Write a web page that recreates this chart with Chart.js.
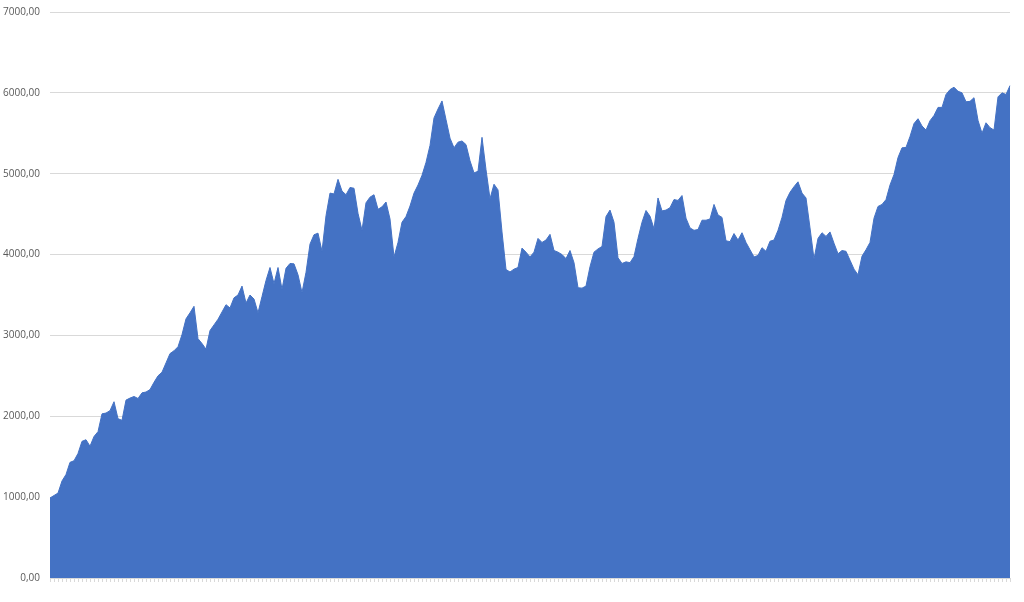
<!DOCTYPE html>
<html>
<head>
<meta charset="utf-8">
<title>Area chart</title>
<script src="https://cdn.jsdelivr.net/npm/chart.js@4/dist/chart.umd.min.js"></script>
<style>
  html, body { margin: 0; padding: 0; background: #fff; }
  #wrap { width: 1024px; height: 602px; }
</style>
</head>
<body>
<div id="wrap"><canvas id="chart" width="1024" height="602"></canvas></div>
<script>
// series values (one per category, left to right)
const values = [
  990, 1020, 1050, 1200, 1280, 1430, 1450, 1540, 1690, 1710,
  1630, 1750, 1810, 2030, 2040, 2070, 2180, 1970, 1950, 2200,
  2225, 2245, 2220, 2290, 2300, 2330, 2420, 2500, 2545, 2660,
  2775, 2810, 2860, 3010, 3205, 3280, 3360, 2960, 2900, 2830,
  3060, 3130, 3200, 3290, 3380, 3340, 3465, 3500, 3610, 3400,
  3500, 3450, 3280, 3480, 3680, 3840, 3640, 3840, 3570, 3830,
  3890, 3885, 3750, 3530, 3780, 4130, 4245, 4265, 4040, 4480,
  4760, 4750, 4930, 4785, 4740, 4830, 4820, 4510, 4300, 4640,
  4710, 4740, 4560, 4590, 4650, 4440, 3970, 4150, 4400, 4470,
  4600, 4760, 4860, 4980, 5140, 5350, 5690, 5800, 5900, 5670,
  5440, 5320, 5390, 5405, 5360, 5160, 5010, 5030, 5450, 5050,
  4690, 4870, 4800, 4280, 3815, 3785, 3820, 3840, 4080, 4030,
  3970, 4030, 4200, 4150, 4180, 4250, 4050, 4030, 4000, 3950,
  4050, 3900, 3590, 3585, 3610, 3850, 4030, 4070, 4100, 4470,
  4550, 4400, 3960, 3890, 3910, 3900, 3975, 4200, 4400, 4545,
  4475, 4320, 4700, 4540, 4550, 4580, 4680, 4670, 4730, 4450,
  4330, 4300, 4310, 4425, 4425, 4440, 4620, 4490, 4460, 4170,
  4160, 4260, 4180, 4270, 4150, 4060, 3970, 3990, 4085, 4040,
  4165, 4180, 4300, 4460, 4670, 4770, 4840, 4900, 4760, 4700,
  4330, 3945, 4200, 4270, 4225, 4280, 4140, 4010, 4050, 4040,
  3930, 3820, 3750, 3980, 4060, 4150, 4450, 4595, 4620, 4680,
  4860, 4990, 5200, 5320, 5325, 5460, 5620, 5680, 5590, 5540,
  5655, 5720, 5820, 5820, 5980, 6040, 6070, 6020, 6000, 5890,
  5895, 5940, 5660, 5500, 5630, 5570, 5540, 5950, 6000, 5980,
  6090
];

// categories have no visible labels, just one tick each
const categories = values.map((v, i) => String(i + 1));

// value axis
const yMin = 0;
const yMax = 7000;
const yStep = 1000;

const ctx = document.getElementById("chart").getContext("2d");
new Chart(ctx, {
  type: "line",
  data: {
    labels: categories,
    datasets: [{
      data: values,
      borderColor: "#4472C4",
      backgroundColor: "#4472C4",
      borderWidth: 1,
      pointRadius: 0,
      fill: "origin",
      tension: 0
    }]
  },
  options: {
    responsive: false,
    animation: false,
    layout: { padding: { left: 0, right: 14, top: 12, bottom: 14 } },
    plugins: {
      legend: { display: false },
      tooltip: { enabled: false }
    },
    scales: {
      x: {
        offset: false,
        grid: { display: true, drawOnChartArea: false, drawTicks: true, tickLength: 4, color: "#d9d9d9" },
        border: { display: false },
        ticks: { display: false },
        afterFit: s => { s.height = 10; s.paddingLeft = 0; s.paddingRight = 0; }
      },
      y: {
        min: yMin,
        max: yMax,
        grid: { color: "#d9d9d9", drawTicks: false },
        border: { display: false },
        ticks: {
          stepSize: yStep,
          padding: 10,
          color: "#595959",
          font: { family: "'Open Sans', sans-serif", size: 10 },
          callback: v => v.toFixed(2).replace(".", ",")
        },
        afterFit: s => { s.width = 50; s.paddingTop = 0; s.paddingBottom = 0; }
      }
    }
  }
});
</script>
</body>
</html>
